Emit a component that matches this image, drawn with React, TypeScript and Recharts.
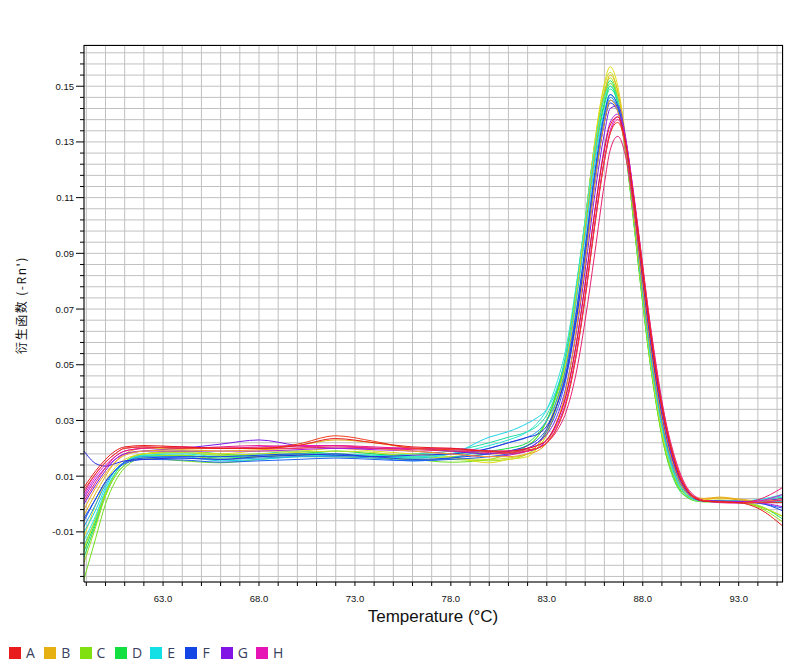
import { LineChart, Line, XAxis, YAxis, CartesianGrid } from 'recharts';

const temps = [
  58.88, 59.5, 60, 60.5, 61, 62, 64, 66, 68, 70, 72, 74, 76, 78, 80, 81, 82,
  82.5, 83, 83.5, 84, 84.5, 85, 85.5, 86, 86.3, 86.7, 87.1, 87.5, 87.9, 88.3,
  88.7, 89.1, 89.5, 89.9, 90.3, 90.7, 91.2, 92, 93, 94, 95.31,
];

// derivative reporter (-Rn') per well
const w01 = [-0.012, 0.0, 0.008, 0.013, 0.016, 0.018, 0.019, 0.018, 0.019, 0.019, 0.02, 0.019, 0.018, 0.017, 0.0148, 0.016, 0.017,
  0.02, 0.025, 0.035, 0.05, 0.073, 0.101, 0.13, 0.151, 0.157, 0.15, 0.132, 0.107, 0.082, 0.058, 0.038, 0.023, 0.013, 0.007, 0.0035, 0.002, 0.0015, 0.0022, 0.0015, 0.001, 0.001];
const w02 = [-0.004, 0.004, 0.01, 0.015, 0.018, 0.02, 0.02, 0.02, 0.02, 0.021, 0.023, 0.022, 0.02, 0.019, 0.018, 0.018, 0.019,
  0.021, 0.026, 0.035, 0.049, 0.071, 0.098, 0.126, 0.147, 0.154, 0.148, 0.131, 0.107, 0.083, 0.06, 0.04, 0.025, 0.014, 0.0075, 0.004, 0.0025, 0.002, 0.0025, 0.0018, 0.0012, 0.002];
const w03 = [-0.021, -0.008, 0.003, 0.01, 0.014, 0.017, 0.0175, 0.016, 0.017, 0.018, 0.018, 0.017, 0.016, 0.016, 0.0155, 0.016, 0.018,
  0.021, 0.027, 0.037, 0.052, 0.075, 0.102, 0.129, 0.148, 0.153, 0.146, 0.128, 0.104, 0.079, 0.056, 0.037, 0.022, 0.012, 0.006, 0.003, 0.0015, 0.001, 0.001, 0.0008, -0.001, -0.0065];
const w04 = [-0.027, -0.012, 0.0, 0.008, 0.013, 0.0165, 0.0155, 0.0148, 0.016, 0.017, 0.017, 0.0165, 0.016, 0.015, 0.016, 0.018, 0.021,
  0.024, 0.03, 0.039, 0.053, 0.075, 0.101, 0.128, 0.146, 0.151, 0.145, 0.127, 0.103, 0.078, 0.055, 0.036, 0.021, 0.0115, 0.0055, 0.0025, 0.0012, 0.0008, 0.0008, 0.0006, -0.0008, -0.0045];
const w05 = [-0.017, -0.006, 0.004, 0.011, 0.015, 0.018, 0.019, 0.018, 0.017, 0.018, 0.019, 0.018, 0.017, 0.018, 0.019, 0.02, 0.022,
  0.025, 0.03, 0.039, 0.052, 0.073, 0.099, 0.126, 0.144, 0.15, 0.144, 0.127, 0.104, 0.079, 0.056, 0.037, 0.022, 0.012, 0.006, 0.003, 0.0015, 0.001, 0.001, 0.0008, 0.0005, 0.001];
const w06 = [-0.015, -0.005, 0.004, 0.011, 0.015, 0.018, 0.0185, 0.0175, 0.018, 0.019, 0.018, 0.0175, 0.018, 0.019, 0.022, 0.024, 0.026,
  0.028, 0.032, 0.04, 0.053, 0.073, 0.098, 0.124, 0.143, 0.149, 0.144, 0.128, 0.105, 0.08, 0.057, 0.038, 0.023, 0.013, 0.0065, 0.003, 0.0015, 0.001, 0.0008, 0.0008, 0.0012, 0.0025];
const w07 = [-0.01, -0.002, 0.006, 0.012, 0.015, 0.017, 0.017, 0.0155, 0.016, 0.017, 0.0175, 0.017, 0.0165, 0.018, 0.024, 0.026, 0.029,
  0.031, 0.034, 0.041, 0.053, 0.072, 0.096, 0.122, 0.141, 0.147, 0.143, 0.128, 0.106, 0.082, 0.059, 0.04, 0.025, 0.014, 0.007, 0.0035, 0.0018, 0.0012, 0.001, 0.001, 0.0015, 0.003];
const w08 = [-0.008, 0.0, 0.007, 0.012, 0.015, 0.017, 0.0165, 0.016, 0.0165, 0.017, 0.017, 0.0165, 0.0155, 0.0165, 0.02, 0.022, 0.024,
  0.026, 0.03, 0.037, 0.049, 0.068, 0.092, 0.118, 0.139, 0.146, 0.142, 0.127, 0.106, 0.082, 0.06, 0.041, 0.026, 0.015, 0.008, 0.004, 0.002, 0.0012, 0.001, 0.001, 0.001, 0.001];
const w09 = [-0.006, 0.002, 0.008, 0.012, 0.015, 0.0165, 0.017, 0.017, 0.0175, 0.018, 0.0175, 0.017, 0.016, 0.0165, 0.018, 0.019, 0.021,
  0.023, 0.027, 0.035, 0.047, 0.067, 0.092, 0.119, 0.14, 0.147, 0.143, 0.129, 0.108, 0.085, 0.062, 0.043, 0.027, 0.016, 0.0085, 0.004, 0.002, 0.0012, 0.001, 0.001, 0.0005, -0.0025];
const w10 = [0.019, 0.0145, 0.0136, 0.0145, 0.0155, 0.016, 0.0165, 0.016, 0.017, 0.0175, 0.018, 0.017, 0.0175, 0.018, 0.02, 0.022, 0.024,
  0.025, 0.028, 0.035, 0.046, 0.065, 0.089, 0.116, 0.137, 0.144, 0.141, 0.128, 0.108, 0.085, 0.063, 0.044, 0.028, 0.017, 0.009, 0.0045, 0.0022, 0.0012, 0.001, 0.0008, 0.0005, 0.0005];
const w11 = [0.0, 0.007, 0.012, 0.016, 0.018, 0.019, 0.02, 0.0215, 0.023, 0.021, 0.02, 0.02, 0.02, 0.019, 0.018, 0.019, 0.02,
  0.022, 0.025, 0.031, 0.042, 0.06, 0.084, 0.111, 0.133, 0.142, 0.143, 0.132, 0.112, 0.089, 0.066, 0.046, 0.03, 0.018, 0.0095, 0.0045, 0.002, 0.001, 0.0008, 0.0008, 0.001, 0.002];
const w12 = [0.002, 0.009, 0.013, 0.016, 0.018, 0.019, 0.019, 0.019, 0.019, 0.0195, 0.02, 0.0195, 0.019, 0.018, 0.017, 0.0175, 0.019,
  0.02, 0.023, 0.029, 0.039, 0.056, 0.079, 0.105, 0.128, 0.137, 0.14, 0.131, 0.112, 0.09, 0.067, 0.047, 0.031, 0.019, 0.01, 0.005, 0.0022, 0.0012, 0.001, 0.0008, 0.0005, -0.001];
const w13 = [0.003, 0.01, 0.014, 0.017, 0.019, 0.02, 0.0205, 0.02, 0.0205, 0.021, 0.021, 0.02, 0.02, 0.0195, 0.019, 0.019, 0.02,
  0.021, 0.023, 0.028, 0.037, 0.053, 0.075, 0.101, 0.124, 0.134, 0.139, 0.131, 0.113, 0.091, 0.069, 0.049, 0.033, 0.02, 0.011, 0.0055, 0.0025, 0.0012, 0.0008, 0.0005, 0.001, 0.0035];
const w14 = [0.004, 0.011, 0.015, 0.018, 0.02, 0.0205, 0.02, 0.0205, 0.021, 0.0205, 0.021, 0.0205, 0.02, 0.02, 0.019, 0.0185, 0.019,
  0.02, 0.022, 0.027, 0.036, 0.052, 0.074, 0.1, 0.123, 0.133, 0.138, 0.13, 0.112, 0.091, 0.069, 0.05, 0.033, 0.021, 0.012, 0.006, 0.003, 0.0012, 0.0005, 0.0003, 0.0005, 0.0015];
const w15 = [0.006, 0.012, 0.016, 0.019, 0.0205, 0.021, 0.0205, 0.02, 0.02, 0.021, 0.0235, 0.022, 0.0205, 0.02, 0.019, 0.019, 0.02,
  0.021, 0.023, 0.029, 0.039, 0.056, 0.079, 0.105, 0.127, 0.136, 0.139, 0.13, 0.111, 0.089, 0.067, 0.047, 0.031, 0.019, 0.01, 0.005, 0.0022, 0.001, 0.0008, 0.0005, -0.0015, -0.008];
const w16 = [0.005, 0.011, 0.015, 0.018, 0.02, 0.0205, 0.02, 0.02, 0.02, 0.0215, 0.0245, 0.0225, 0.02, 0.0195, 0.019, 0.0185, 0.0195,
  0.02, 0.022, 0.027, 0.036, 0.052, 0.074, 0.1, 0.123, 0.133, 0.137, 0.129, 0.111, 0.09, 0.068, 0.048, 0.032, 0.02, 0.011, 0.0055, 0.0025, 0.0012, 0.0008, 0.0005, 0.0005, 0.0005];
const w17 = [-0.002, 0.006, 0.011, 0.015, 0.0175, 0.019, 0.0195, 0.019, 0.0195, 0.02, 0.021, 0.02, 0.019, 0.018, 0.017, 0.017, 0.018,
  0.019, 0.022, 0.029, 0.041, 0.061, 0.087, 0.115, 0.137, 0.145, 0.141, 0.127, 0.106, 0.083, 0.061, 0.042, 0.027, 0.016, 0.0085, 0.004, 0.0022, 0.0018, 0.0022, 0.0015, 0.001, 0.0015];
const w18 = [0.001, 0.008, 0.013, 0.017, 0.019, 0.02, 0.0205, 0.02, 0.02, 0.02, 0.0205, 0.02, 0.0195, 0.019, 0.0185, 0.018, 0.019,
  0.02, 0.022, 0.026, 0.033, 0.046, 0.066, 0.09, 0.115, 0.127, 0.132, 0.125, 0.108, 0.087, 0.066, 0.047, 0.031, 0.019, 0.011, 0.005, 0.0025, 0.0012, 0.0008, 0.0005, 0.0015, 0.006];
const w19 = [-0.019, -0.007, 0.003, 0.01, 0.014, 0.0175, 0.0175, 0.0165, 0.017, 0.0175, 0.0175, 0.017, 0.0165, 0.017, 0.018, 0.019, 0.021,
  0.024, 0.03, 0.04, 0.054, 0.076, 0.102, 0.129, 0.147, 0.152, 0.145, 0.127, 0.103, 0.078, 0.055, 0.036, 0.021, 0.011, 0.005, 0.0025, 0.0012, 0.0008, 0.0008, 0.0005, -0.0005, -0.0055];
const w20 = [-0.005, 0.002, 0.008, 0.012, 0.0145, 0.016, 0.0158, 0.015, 0.0155, 0.016, 0.0165, 0.016, 0.0155, 0.016, 0.017, 0.018, 0.02,
  0.022, 0.026, 0.033, 0.045, 0.064, 0.088, 0.115, 0.137, 0.145, 0.142, 0.129, 0.109, 0.086, 0.063, 0.044, 0.028, 0.017, 0.009, 0.0045, 0.0022, 0.0012, 0.001, 0.0008, 0.0003, -0.0015];
const w21 = [-0.013, -0.004, 0.005, 0.011, 0.015, 0.0175, 0.018, 0.017, 0.0175, 0.018, 0.018, 0.0175, 0.017, 0.018, 0.021, 0.023, 0.026,
  0.029, 0.034, 0.043, 0.056, 0.077, 0.102, 0.128, 0.146, 0.15, 0.145, 0.129, 0.106, 0.081, 0.058, 0.039, 0.024, 0.013, 0.0065, 0.003, 0.0015, 0.001, 0.001, 0.001, 0.0015, 0.0035];
const w22 = [-0.016, -0.005, 0.004, 0.011, 0.015, 0.018, 0.0185, 0.0175, 0.018, 0.0185, 0.019, 0.0185, 0.017, 0.0165, 0.016, 0.0165, 0.018,
  0.02, 0.025, 0.035, 0.05, 0.073, 0.101, 0.13, 0.15, 0.155, 0.148, 0.13, 0.106, 0.081, 0.057, 0.038, 0.023, 0.013, 0.0065, 0.003, 0.0015, 0.0012, 0.0015, 0.001, -0.0005, -0.0045];

// draw order: cool colours first, reds on top
const wells = [
  { key: 'w06', values: w06, color: '#1ee0a8' },
  { key: 'w05', values: w05, color: '#18e044' },
  { key: 'w19', values: w19, color: '#1ae060' },
  { key: 'w04', values: w04, color: '#72e01e' },
  { key: 'w03', values: w03, color: '#9ee01a' },
  { key: 'w22', values: w22, color: '#c6e01e' },
  { key: 'w01', values: w01, color: '#e0dc1a' },
  { key: 'w02', values: w02, color: '#e6b41a' },
  { key: 'w07', values: w07, color: '#1ed4e8' },
  { key: 'w21', values: w21, color: '#2ae6d6' },
  { key: 'w08', values: w08, color: '#1e9ee8' },
  { key: 'w20', values: w20, color: '#2060f0' },
  { key: 'w09', values: w09, color: '#1a46e8' },
  { key: 'w10', values: w10, color: '#2a2ee0' },
  { key: 'w11', values: w11, color: '#7a1ae8' },
  { key: 'w12', values: w12, color: '#b01ae0' },
  { key: 'w17', values: w17, color: '#f0a020' },
  { key: 'w13', values: w13, color: '#e01ad0' },
  { key: 'w14', values: w14, color: '#e81a90' },
  { key: 'w18', values: w18, color: '#e82070' },
  { key: 'w16', values: w16, color: '#f04020' },
  { key: 'w15', values: w15, color: '#e81a1a' },
];

const rows = ['A', 'B', 'C', 'D', 'E', 'F', 'G', 'H'];
const rowColors = ['#e81c1c', '#e6b013', '#80e010', '#12e040', '#12e0e4', '#1446e6', '#8214e6', '#e614b4'];

const xTicks = Array.from({ length: 37 }, (_, i) => 59 + i);
const xLabelled = [63, 68, 73, 78, 83, 88, 93];
const yTicks = Array.from({ length: 48 }, (_, i) => Math.round((-0.026 + i * 0.004) * 1000) / 1000);
const yLabelled = [-0.01, 0.01, 0.03, 0.05, 0.07, 0.09, 0.11, 0.13, 0.15];

const data = temps.map((t, i) => {
  const row: Record<string, number> = { t };
  wells.forEach((w) => {
    row[w.key] = w.values[i];
  });
  return row;
});

const PLOT_LEFT = 84;
const PLOT_TOP = 45;
const PLOT_W = 699;
const PLOT_H = 537;
const tickFont = '"Liberation Sans", Arial, sans-serif';

function YTick({ y, payload }: any) {
  const v = payload.value as number;
  const major = yLabelled.some((l) => Math.abs(l - v) < 1e-6);
  return (
    <g>
      <line x1={PLOT_LEFT - (major ? 8 : 4)} x2={PLOT_LEFT} y1={y} y2={y} stroke="#000" />
      {major && (
        <text x={74} y={y} dy={3.5} textAnchor="end" fontSize={9.5} fontFamily={tickFont} fill="#111">
          {v.toFixed(2)}
        </text>
      )}
    </g>
  );
}

function XTick({ x, payload }: any) {
  const v = payload.value as number;
  const major = xLabelled.includes(v);
  const base = PLOT_TOP + PLOT_H;
  return (
    <g>
      <line x1={x} x2={x} y1={base} y2={base + 4} stroke="#000" />
      {major && (
        <text x={x} y={base + 20} textAnchor="middle" fontSize={9.5} fontFamily={tickFont} fill="#111">
          {v.toFixed(1)}
        </text>
      )}
    </g>
  );
}

export default function App() {
  return (
    <div style={{ position: 'absolute', left: 0, top: 0, width: 804, height: 663, background: '#fff', overflow: 'hidden' }}>
      <LineChart
        width={804}
        height={663}
        data={data}
        margin={{ top: PLOT_TOP, right: 804 - PLOT_LEFT - PLOT_W, left: 0, bottom: 0 }}
      >
        <CartesianGrid stroke="#c0c0c0" strokeWidth={1} />
        <XAxis
          dataKey="t"
          type="number"
          domain={[58.88, 95.31]}
          ticks={xTicks}
          tick={<XTick />}
          tickLine={false}
          axisLine={{ stroke: '#000' }}
          height={663 - PLOT_TOP - PLOT_H}
          interval={0}
        />
        <YAxis
          type="number"
          domain={[-0.028, 0.1648]}
          ticks={yTicks}
          tick={<YTick />}
          tickLine={false}
          axisLine={{ stroke: '#000' }}
          width={PLOT_LEFT}
          interval={0}
          allowDataOverflow
        />
        {wells.map((w) => (
          <Line
            key={w.key}
            dataKey={w.key}
            type="monotone"
            stroke={w.color}
            strokeWidth={1}
            dot={false}
            activeDot={false}
            isAnimationActive={false}
          />
        ))}
      </LineChart>

      {/* plot frame */}
      <div
        style={{
          position: 'absolute',
          left: PLOT_LEFT,
          top: PLOT_TOP,
          width: PLOT_W,
          height: PLOT_H,
          boxSizing: 'border-box',
          borderTop: '1px solid #000',
          borderRight: '1px solid #000',
          pointerEvents: 'none',
        }}
      />

      <div
        style={{
          position: 'absolute',
          left: 20,
          top: 305,
          transform: 'translate(-50%, -50%) rotate(-90deg)',
          whiteSpace: 'nowrap',
          fontSize: 12,
          letterSpacing: 1.5,
          fontFamily: '"Noto Sans CJK SC", sans-serif',
          color: '#111',
        }}
      >
        衍生函数 (-Rn')
      </div>

      <div
        style={{
          position: 'absolute',
          left: 433,
          top: 617,
          transform: 'translate(-50%, -50%)',
          whiteSpace: 'nowrap',
          fontSize: 17,
          fontFamily: tickFont,
          color: '#111',
        }}
      >
        Temperature (°C)
      </div>

      <div style={{ position: 'absolute', left: 9, top: 646, display: 'flex', alignItems: 'center' }}>
        {rows.map((r, i) => (
          <div key={r} style={{ display: 'flex', alignItems: 'center', width: 35.3 }}>
            <span style={{ width: 12, height: 12, background: rowColors[i], display: 'inline-block' }} />
            <span
              style={{
                marginLeft: 5,
                fontSize: 14,
                lineHeight: '14px',
                fontFamily: '"Open Sans", "Noto Sans", sans-serif',
                color: '#3a4060',
              }}
            >
              {r}
            </span>
          </div>
        ))}
      </div>
    </div>
  );
}
